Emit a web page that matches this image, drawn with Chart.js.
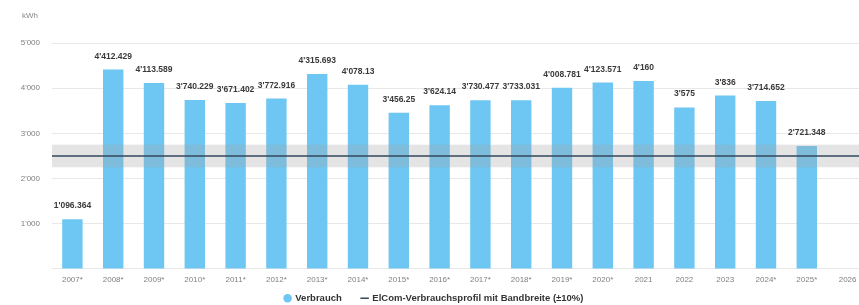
<!DOCTYPE html>
<html>
<head>
<meta charset="utf-8">
<script src="https://cdn.jsdelivr.net/npm/chart.js@4"></script>
<style>
  html, body { margin: 0; padding: 0; background: #fff; overflow: hidden; }
  #wrap { width: 878px; height: 305px; }
</style>
</head>
<body>
<div id="wrap"><canvas id="usageChart"></canvas></div>
<script>
// ── DATA ────────────────────────────────────────────────────
const years = ['2007*', '2008*', '2009*', '2010*', '2011*', '2012*', '2013*', '2014*',
  '2015*', '2016*', '2017*', '2018*', '2019*', '2020*', '2021', '2022', '2023',
  '2024*', '2025*', '2026']
const verbrauch = [1096.364, 4412.429, 4113.589, 3740.229, 3671.402, 3772.916, 4315.693,
  4078.13, 3456.25, 3624.14, 3730.477, 3733.031, 4008.781, 4123.571, 4160, 3575, 3836,
  3714.652, 2721.348, null]
const profile = 2500
const bandwidth = 0.1
const yTicks = [0, 1000, 2000, 3000, 4000, 5000]

// swiss style number: 4'412.429
const fmt = v => {
  const [i, d] = String(v).split('.')
  return i.replace(/\B(?=(\d{3})+(?!\d))/g, "'") + (d ? '.' + d : '')
}

// ── PROFILE BAND + LINE, VALUE LABELS, UNIT ─────────────────
const overlay = {
  id: 'overlay',
  afterDatasetsDraw(chart) {
    const { ctx, chartArea: a, scales: { y } } = chart
    const top = y.getPixelForValue(profile * (1 + bandwidth))
    const bot = y.getPixelForValue(profile * (1 - bandwidth))
    const mid = y.getPixelForValue(profile)
    ctx.save()
    ctx.fillStyle = 'rgba(165,165,165,0.3)'
    ctx.fillRect(a.left, top, a.right - a.left, bot - top)
    ctx.strokeStyle = '#34495e'
    ctx.lineWidth = 1.5
    ctx.beginPath()
    ctx.moveTo(a.left, mid)
    ctx.lineTo(a.right, mid)
    ctx.stroke()

    ctx.font = 'bold 8.5px "Liberation Sans", Arial, sans-serif'
    ctx.fillStyle = '#3a3a3a'
    ctx.textAlign = 'center'
    ctx.textBaseline = 'bottom'
    chart.getDatasetMeta(0).data.forEach((bar, i) => {
      if (verbrauch[i] == null) return
      ctx.fillText(fmt(verbrauch[i]), bar.x, bar.y - 9)
    })

    ctx.font = '8px "Liberation Sans", Arial, sans-serif'
    ctx.fillStyle = '#888'
    ctx.textAlign = 'left'
    ctx.textBaseline = 'middle'
    ctx.fillText('kWh', 22, 16)
    ctx.restore()
  }
}

const ctx = document.getElementById('usageChart').getContext('2d')
new Chart(ctx, {
  type: 'bar',
  data: {
    labels: years,
    datasets: [
      {
        label: 'Verbrauch',
        data: verbrauch,
        backgroundColor: '#6ec6f2',
        borderWidth: 0,
        barPercentage: 0.5,
        categoryPercentage: 1,
        pointStyle: 'circle'
      },
      {
        type: 'line',
        label: 'ElCom-Verbrauchsprofil mit Bandbreite (±10%)',
        data: [],
        borderColor: '#34495e',
        backgroundColor: '#34495e',
        borderWidth: 1.5,
        pointStyle: 'line'
      }
    ]
  },
  options: {
    responsive: true,
    maintainAspectRatio: false,
    animation: false,
    layout: { padding: { top: 43, right: 10, left: 0, bottom: -8 } },
    plugins: {
      legend: {
        position: 'bottom',
        labels: {
          usePointStyle: true,
          boxWidth: 6,
          boxHeight: 6,
          padding: 4,
          color: '#333',
          font: { family: '"Liberation Sans", Arial, sans-serif', size: 9.5, weight: 'bold' },
          generateLabels: chart => {
            const items = Chart.defaults.plugins.legend.labels.generateLabels(chart)
            items[0].text += '\u00a0'.repeat(6)
            return items
          }
        }
      },
      tooltip: { enabled: false }
    },
    scales: {
      x: {
        afterFit: s => { s.height = 20.6 },
        grid: { display: false, drawTicks: false },
        border: { display: false },
        ticks: {
          color: '#808080',
          padding: 6,
          maxRotation: 0,
          autoSkip: false,
          font: { family: '"Liberation Sans", Arial, sans-serif', size: 8 }
        }
      },
      y: {
        min: 0,
        max: 5000,
        afterFit: s => { s.width = 52 },
        afterBuildTicks: s => { s.ticks = yTicks.map(v => ({ value: v })) },
        grid: { color: '#e8e8e8', drawTicks: false },
        border: { display: false },
        ticks: {
          color: '#808080',
          padding: 12,
          font: { family: '"Liberation Sans", Arial, sans-serif', size: 8 },
          callback: v => v === 0 ? '' : fmt(v)
        }
      }
    }
  },
  plugins: [overlay]
})
</script>
</body>
</html>
